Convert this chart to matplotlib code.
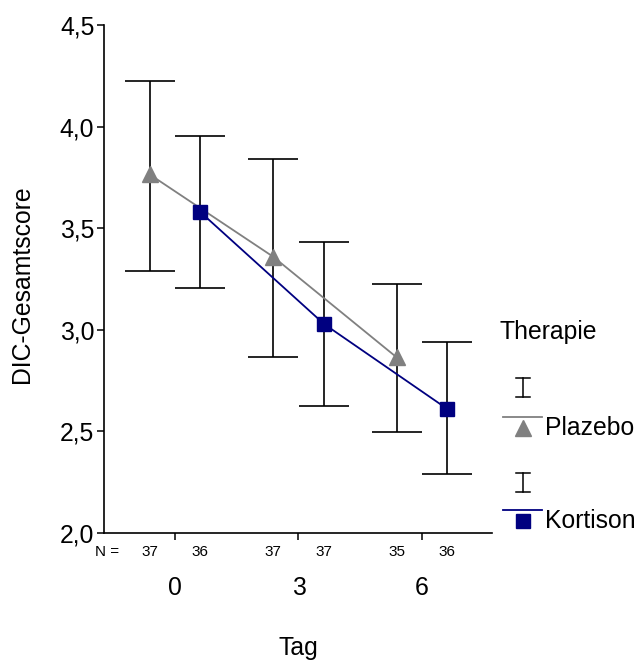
import matplotlib
matplotlib.use("Agg")
import matplotlib.pyplot as plt
from matplotlib.lines import Line2D
import numpy as np

plt.rcParams['font.family'] = ['Liberation Sans', 'DejaVu Sans']

# data
days = ['0', '3', '6']
groups = ['Plazebo', 'Kortison']
n_plazebo = [37, 37, 35]
n_kortison = [36, 37, 36]
plazebo_mean = [3.765, 3.36, 2.865]
plazebo_lo = [3.29, 2.868, 2.495]
plazebo_hi = [4.225, 3.839, 3.224]
kortison_mean = [3.579, 3.029, 2.61]
kortison_lo = [3.208, 2.627, 2.291]
kortison_hi = [3.954, 3.431, 2.942]

W, H = 640, 666
fig = plt.figure(figsize=(6.4, 6.66), dpi=100)
ax = fig.add_axes([104 / W, 1 - 533 / H, (492 - 104) / W, (533 - 25) / H])

FS = 17.8
x = np.arange(len(days))
off = 0.206
series = [
    (x - off, plazebo_mean, plazebo_lo, plazebo_hi, '#808080', '^', 11.5),
    (x + off, kortison_mean, kortison_lo, kortison_hi, '#000080', 's', 10.5),
]
for xs, m, lo, hi, col, mk, ms in series:
    m = np.array(m)
    err = [m - np.array(lo), np.array(hi) - m]
    ax.errorbar(xs, m, yerr=err, fmt='none', ecolor='black', elinewidth=1.2,
                capsize=18, capthick=1.2, zorder=2)
    ax.plot(xs, m, color=col, lw=1.3, zorder=3)
    ax.plot(xs, m, ls='none', marker=mk, ms=ms, color=col, mec=col, zorder=4)

ax.set_xlim(-0.575, 2.567)
ax.set_ylim(2.0, 4.5)
ax.set_yticks([2.0, 2.5, 3.0, 3.5, 4.0, 4.5])
ax.set_yticklabels(['2,0', '2,5', '3,0', '3,5', '4,0', '4,5'], fontsize=FS)
ax.set_xticks(x)
ax.set_xticklabels(days, fontsize=FS)
ax.tick_params(axis='y', direction='out', length=5, width=1.1, pad=2)
ax.tick_params(axis='x', direction='out', length=5, width=1.1, pad=26)
for s in ['top', 'right']:
    ax.spines[s].set_visible(False)
ax.spines['left'].set_linewidth(1.2)
ax.spines['bottom'].set_linewidth(1.2)

ax.set_ylabel('DIC-Gesamtscore', fontsize=FS, va='center')
ax.yaxis.set_label_coords(-82 / (492 - 104), 0.49)
ax.set_xlabel('Tag', fontsize=FS, va='center')
ax.xaxis.set_label_coords(0.5, -(648 - 533) / (533 - 25))

# N row
trans = ax.get_xaxis_transform()
ny = -(552 - 533) / (533 - 25)
ax.text(-0.575 + (107 - 104) / 123.5, ny, 'N =', fontsize=11, ha='center', va='center', transform=trans)
for i in range(len(days)):
    ax.text(x[i] - off, ny, str(n_plazebo[i]), fontsize=11, ha='center', va='center', transform=trans)
    ax.text(x[i] + off, ny, str(n_kortison[i]), fontsize=11, ha='center', va='center', transform=trans)


# legend drawn in pixel coordinates
def px(xp, yp):
    return xp / W, 1 - yp / H


fig.text(*px(500, 332), 'Therapie', fontsize=FS, ha='left', va='center')
leg = [
    ('Plazebo', '#808080', '^', 11.5, 378, 397, 417, 428),
    ('Kortison', '#000080', 's', 10.5, 473, 492, 510, 521),
]
for name, col, mk, ms, e0, e1, ly, my in leg:
    xa, ya0 = px(523, e0)
    _, ya1 = px(523, e1)
    fig.add_artist(Line2D([xa, xa], [ya0, ya1], color='black', lw=1.1, transform=fig.transFigure))
    for yy in (ya0, ya1):
        fig.add_artist(Line2D([xa - 7 / W, xa + 7 / W], [yy, yy], color='black', lw=1.1,
                              transform=fig.transFigure))
    l0, lyf = px(503, ly)
    l1, _ = px(542, ly)
    fig.add_artist(Line2D([l0, l1], [lyf, lyf], color=col, lw=1.3, transform=fig.transFigure))
    mx, myf = px(523, my)
    fig.add_artist(Line2D([mx], [myf], ls='none', marker=mk, ms=ms, color=col, mec=col,
                          transform=fig.transFigure))
    fig.text(*px(545, my), name, fontsize=FS, ha='left', va='center')

fig.savefig('out.png', dpi=100)
